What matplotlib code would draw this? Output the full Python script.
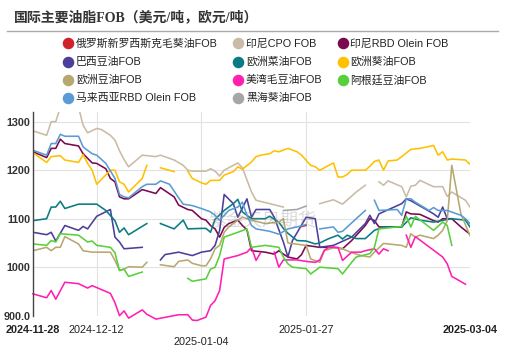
import numpy as np
import pandas as pd
import matplotlib
matplotlib.use("Agg")
import matplotlib.pyplot as plt
from matplotlib.lines import Line2D

plt.rcParams['font.family'] = ['Liberation Sans', 'Noto Sans CJK SC', 'DejaVu Sans']

# day offsets from the first date, None = no quote (gap in the line)
start = pd.Timestamp("2024-11-28")
end = pd.Timestamp("2025-03-04")

rd_d = [59, 60]
rd_v = [1084, 1086]

cpo_d = [0, 3, 4, 5, 6, 10, 11, 12, 14, 15, 17, 18, 19, 20, 21, 24, 26, 27, 28, 31, 33, 34, 35, 38, 39, 40, 41, 42, 45, 46,
         47, 48, 49, 52, 55, 57, 63, 66, 68, 71, 73, 75, 76, 77, 78, 81, 82, 83, 84, 85, 88, 90, 91, 92, 95, 96]
cpo_v = [1281, 1272, 1300, 1300, 1330, 1330, 1293, 1277, 1286, 1284, 1272, 1262, 1240, 1222, 1207, 1231, 1229, 1228, 1231, 1221,
         1210, 1200, 1198, 1198, 1203, 1198, 1188, 1200, 1215, 1205, 1180, 1155, 1138, 1131, 1124, None, 1131, 1139, 1130, 1155,
         1169, None, 1176, 1169, 1178, 1166, 1145, 1167, 1169, 1179, 1166, 1166, 1146, 1155, 1138, 1124]

mr_d = [0, 3, 4, 5, 6, 7, 10, 11, 13, 14, 16, 17, 18, 19, 20, 21, 24, 27, 28, 31, 32, 34, 35, 37, 38, 39, 40, 41, 42, 43,
        45, 46, 47, 48, 51, 53, 54, 55, 56, 58, 59, 60, 63, 66, 68, 70, 73, 74, 75, 76, 81, 82, 83, 85, 88, 89, 90, 92, 94, 96]
mr_v = [1238, 1226, 1245, 1245, 1264, 1255, 1250, 1234, 1215, 1214, 1203, 1183, 1176, 1145, 1141, 1141, 1160, 1152, 1164, 1145,
        1128, 1119, 1117, 1100, 1097, 1086, 1079, 1062, 1082, 1090, 1097, 1086, 1077, 1034, 1031, 1027, 1034, 1027, 1021, 1017,
        1026, 1045, 1041, 1041, 1038, 1055, 1086, 1100, 1096, 1083, 1083, 1114, 1110, 1109, 1096, 1093, 1100, 1100, 1083, 1068]

pu_d = [0, 3, 4, 5, 7, 10, 11, 12, 14, 17, 18, 19, 20, 24, 26, 28, 29, 32, 35, 37, 39, 40, 41, 42, 44, 45, 47, 48, 49, 52,
        53, 55, 56, 57, 60, 62, 63, 66, 70, 73, 74, 75, 76, 81, 82, 83, 86, 88, 89, 90, 91]
pu_v = [1072, 1067, 1072, 1054, 1086, 1076, 1084, 1079, 1105, 1119, 1062, 1052, 1038, 1041, None, 1015, 1026, 1031, 1024, 1031,
        1034, 1045, 1076, 1150, 1131, 1103, 1141, 1103, 1119, 1119, 1103, 1052, 1021, 1055, 1103, 1100, 1041, 1045, 1062, 1090,
        1107, 1090, 1110, 1131, 1141, 1137, 1121, 1110, 1103, 1124, 1100]

te_d = [0, 3, 4, 5, 6, 7, 10, 14, 16, 18, 19, 20, 21, 25, 26, 28, 31, 33, 34, 37, 38, 39, 40, 42, 44, 45, 46, 48, 51, 52,
        54, 55, 56, 58, 60, 62, 63, 65, 67, 68, 69, 71, 73, 75, 77, 81, 83, 85, 88, 92, 95, 96]
te_v = [1096, 1100, 1124, 1124, 1136, 1121, 1130, 1130, 1117, 1096, 1072, 1081, 1067, 1090, None, 1090, 1079, 1097, 1079, 1080,
        1080, 1072, 1099, 1117, 1131, 1140, 1114, 1100, 1100, 1105, 1093, 1080, 1070, 1055, 1054, 1048, 1050, 1059, 1066, 1058,
        1066, 1059, 1059, 1076, 1083, 1083, 1102, 1097, 1093, 1100, 1097, 1083]

or_d = [0, 3, 4, 6, 7, 10, 11, 12, 13, 14, 17, 18, 19, 20, 21, 24, 25, 26, 28, 31, 32, 34, 35, 37, 38, 39, 41, 42, 44, 45,
        46, 48, 49, 50, 52, 53, 54, 56, 58, 59, 61, 62, 63, 66, 67, 68, 69, 70, 73, 74, 75, 76, 77, 78, 80, 81, 83, 85, 88, 89,
        90, 91, 92, 95, 96]
or_v = [1236, 1216, 1228, 1230, 1221, 1216, 1232, 1214, 1200, 1171, 1200, 1200, 1176, 1171, 1155, 1183, 1210, None, 1205, 1197,
        None, 1198, 1183, 1174, 1171, 1179, 1179, 1190, 1197, 1207, 1202, 1217, 1228, 1231, 1234, 1240, 1238, 1245, 1238, 1231,
        1210, 1207, 1200, 1215, 1186, 1186, 1191, 1200, 1200, 1208, 1218, 1221, 1200, 1219, 1221, 1228, 1243, 1245, 1251, 1231,
        1238, 1221, 1223, 1221, 1212]

ta_d = [0, 3, 4, 5, 6, 7, 10, 11, 13, 17, 18, 19, 20, 21, 24, 25, 26, 28, 31, 32, 34, 35, 37, 38, 39, 40, 41, 42, 43, 45,
        46, 48, 51, 54, 55, 56, 60, 61, 63, 64, 66, 68, 70, 72, 74, 75, 77, 81, 82, 83, 84, 85, 88, 89, 90, 91, 92, 94, 96]
ta_v = [1034, 1041, 1034, 1041, 1041, 1063, 1048, 1034, 1031, 1031, 1014, 994, 996, 1001, 1000, 1010, None, 1005, 1001, 1012,
        1015, 1008, 1003, 1003, 1017, 1038, 1045, 1072, 1083, 1097, 1103, 1097, 1090, 1093, 1100, 1050, 1045, 1017, 1010, 1034,
        1040, 1038, 1030, 1024, 1021, 1031, 1049, 1045, 1041, 1069, 1062, 1066, 1059, 1066, 1076, 1096, 1210, 1110, 1065]

pk_d = [0, 3, 4, 5, 7, 10, 12, 13, 17, 18, 19, 20, 21, 24, 25, 27, 32, 34, 35, 36, 38, 39, 40, 41, 42, 45, 47, 48, 49, 50,
        51, 53, 54, 55, 58, 60, 62, 63, 64, 65, 67, 68, 70, 72, 73, 75, 76, 77, 78, 80, 82, 83, 84, 89, 90, 91, 92, 95]
pk_v = [945, 937, 952, 934, 969, 966, 957, 962, 946, 927, 900, 910, 895, 912, 903, 893, 902, 902, 891, 890,
        897, 921, 931, 952, 1017, 1024, 1031, 1041, 1014, 1030, None, 1031, 1000, 1015, 1015, 1012, 1010, 1015, 1035, 1041,
        1041, 1014, 1031, 1031, 1034, 1038, 1027, 1038, 1034, None, 1066, 1041, 1063, 1028, 1021, 1007, 981, 965]

gr_d = [0, 3, 4, 5, 6, 10, 12, 13, 14, 17, 18, 19, 20, 21, 24, 29, 34, 35, 38, 39, 40, 41, 42, 45, 47, 48, 51, 54, 55, 56,
        57, 60, 61, 63, 67, 68, 70, 71, 74, 75, 76, 81, 82, 83, 84, 88, 90, 91, 92]
gr_v = [1048, 1045, 1055, 1052, 1069, 1066, 1052, 1054, 1045, 1041, 1030, 993, 996, 981, 990, None, 977, 971, 976, 996,
        1000, 1024, 1062, 1072, 1079, 1041, 1045, 1041, 1021, 1007, 1000, 997, 986, 1000, 997, 986, 1010, 1021, 1028, 1041,
        1079, 1084, 1105, 1083, 1105, 1076, 1093, 1086, 1045]

lb_d = [0, 3, 4, 5, 6, 7, 10, 11, 13, 14, 16, 18, 19, 20, 21, 24, 25, 27, 28, 30, 32, 33, 35, 37, 39, 40, 41, 43, 45, 46,
        47, 48, 49, 52, 54, 56, 58, 60, 61, 63, 66, 67, 68, 71, 73, 74, 75, 76, 78, 80, 81, 82, 83, 84, 87, 88, 89, 91, 94, 95, 96]
lb_v = [1241, 1231, 1255, 1255, 1274, 1270, 1270, 1248, 1234, 1231, 1214, 1183, 1150, 1145, 1143, 1166, 1171, 1171, 1178, 1171,
        1143, 1130, 1127, 1121, 1114, 1107, 1097, 1117, 1124, 1134, 1107, 1086, 1079, 1074, 1068, 1079, 1083, 1088, None, 1079,
        1083, 1072, 1074, 1100, 1117, None, 1138, 1117, 1118, 1119, 1107, 1141, 1141, 1134, 1117, 1123, 1117, 1117, 1107, 1100, 1090]

gy_d = [55, 58, 60]
gy_v = [1117, 1119, 1126]

names = ['俄罗斯新罗西斯克毛葵油FOB', '印尼CPO FOB', '印尼RBD Olein FOB',
         '巴西豆油FOB', '欧洲菜油FOB', '欧洲葵油FOB',
         '欧洲豆油FOB', '美湾毛豆油FOB', '阿根廷豆油FOB',
         '马来西亚RBD Olein FOB', '黑海葵油FOB']
colors = ['#D0222D', '#C9BBA6', '#7A0A4F', '#4B3F9B', '#0B7A83', '#FFC000',
          '#B7A86F', '#FF1FB0', '#58D03A', '#5B9BD5', '#A6A6A6']
days = [rd_d, cpo_d, mr_d, pu_d, te_d, or_d, ta_d, pk_d, gr_d, lb_d, gy_d]
vals = [rd_v, cpo_v, mr_v, pu_v, te_v, or_v, ta_v, pk_v, gr_v, lb_v, gy_v]

ytick_vals = [900, 1000, 1100, 1200, 1300]
ytick_labels = ['900.0', '1000', '1100', '1200', '1300']
xtick_dates = ['2024-11-28', '2024-12-12', '2025-01-04', '2025-01-27', '2025-03-04']
grid_dates = ['2024-12-12', '2025-01-04', '2025-01-27']

W, H = 509, 351
fig = plt.figure(figsize=(W / 100, H / 100), dpi=100)
ax = fig.add_axes([33 / W, 1 - 315.7 / H, 437 / W, 203.7 / H])

for d, v, c in zip(days, vals, colors):
    x = start + pd.to_timedelta(d, unit='D')
    # the low soybean-oil quotes dip just under the 900 floor in the original, so no clipping there
    ln, = ax.plot(x, np.array(v, dtype=float), color=c, lw=1.15)
    if c == '#FF1FB0':
        ln.set_clip_on(False)

ax.set_xlim(start, end)
ax.set_ylim(900, 1320)

ax.set_yticks(ytick_vals)
ax.set_yticklabels(ytick_labels, fontsize=7.8, fontweight='bold', color='#333333')
ax.tick_params(axis='y', length=0, pad=2)
ax.yaxis.grid(True, color='#E2E2E2', lw=0.8)
ax.set_axisbelow(True)
for g in grid_dates:
    ax.axvline(pd.Timestamp(g), color='#E2E2E2', lw=0.8, zorder=0)

ax.set_xticks([])
xt = ax.get_xaxis_transform()
for i, s in enumerate(xtick_dates):
    bold = i in (0, len(xtick_dates) - 1)
    yy = -0.127 if s == '2025-01-04' else -0.07
    ax.text(pd.Timestamp(s), yy, s, transform=xt, ha='center', va='center', fontsize=7.8,
            fontweight='bold' if bold else 'normal', color='#222222')

for sp in ['top', 'right', 'bottom']:
    ax.spines[sp].set_visible(False)
ax.spines['left'].set_color('#444444')
ax.spines['left'].set_linewidth(1.0)

# watermark
ax.text(0.524, 0.46, '紫金天风期货', transform=ax.transAxes, ha='center', va='center',
        fontsize=13, color='#888888', alpha=0.3)

# header
fig.text(14 / W, 1 - 17 / H, '国际主要油脂FOB（美元/吨，欧元/吨）', fontsize=10, fontweight='bold',
         color='#333333', va='center', family=['Liberation Serif', 'Noto Sans CJK SC'])
fig.add_artist(Line2D([7 / W, 498 / W], [1 - 30.5 / H, 1 - 30.5 / H], color='#AAAAAA', lw=1))

# legend, filled row by row
mark_x = [68, 238, 343]
text_x = [76, 246, 350]
row_y = [43.3, 61.7, 80, 98.3]
for i, (n, c) in enumerate(zip(names, colors)):
    r, k = divmod(i, 3)
    y = 1 - row_y[r] / H
    fig.add_artist(Line2D([mark_x[k] / W], [y], marker='o', ms=7.3, color=c, mec=c, lw=0))
    fig.text(text_x[k] / W, y, n, fontsize=7.8, va='center', color='#222222')

fig.savefig('out.png', dpi=100)
